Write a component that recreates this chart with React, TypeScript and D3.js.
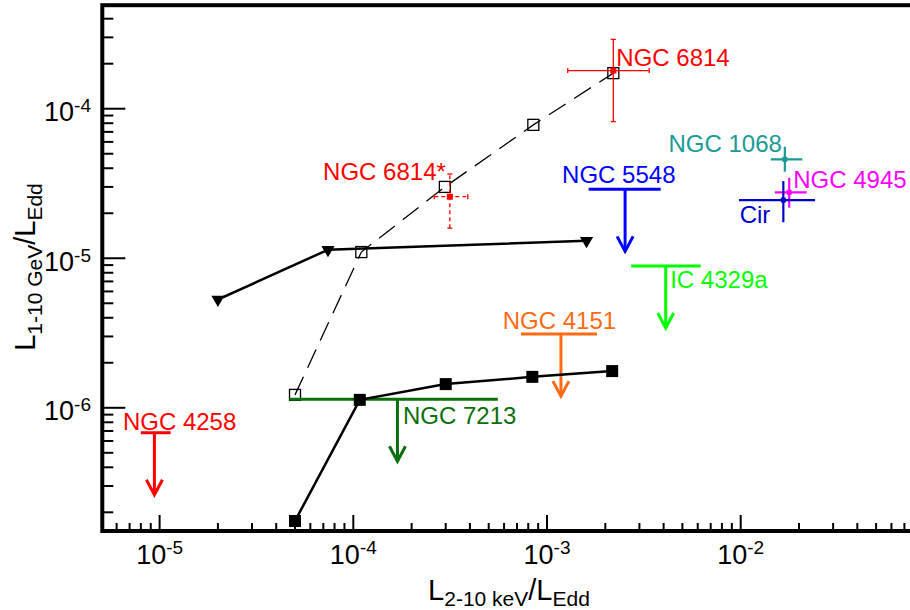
import React from "react";
import * as d3 from "d3";

// Canvas
const W = 910;
const H = 610;

// Axis domains (log-log)
const xDomain: [number, number] = [5e-6, 1e-1];
const yDomain: [number, number] = [1.5e-7, 5e-4];

// Model curve with filled squares (solid)
const filledX = [5.0e-5, 1.08e-4, 3.0e-4, 8.4e-4, 2.17e-3];
const filledY = [1.75e-7, 1.13e-6, 1.44e-6, 1.61e-6, 1.76e-6];

// Model curve with open squares (dashed)
const openX = [5.0e-5, 1.1e-4, 2.97e-4, 8.5e-4, 2.2e-3];
const openY = [1.22e-6, 1.1e-5, 3.0e-5, 7.8e-5, 1.73e-4];

// Model curve with down-pointing triangles (solid)
const triX = [2.0e-5, 7.4e-5, 1.6e-3];
const triY = [5.3e-6, 1.14e-5, 1.31e-5];

// Detected sources with error bars
const detNames = ["NGC 6814", "NGC 6814*", "NGC 1068", "NGC 4945", "Cir"];
const detX = [2.2e-3, 3.15e-4, 1.69e-2, 1.78e-2, 1.66e-2];
const detXLo = [1.28e-3, 2.62e-4, 1.43e-2, 1.5e-2, 9.8e-3];
const detXHi = [3.37e-3, 3.9e-4, 2.08e-2, 2.19e-2, 2.42e-2];
const detY = [1.8e-4, 2.58e-5, 4.59e-5, 2.76e-5, 2.45e-5];
const detYLo = [8.2e-5, 1.59e-5, 3.79e-5, 2.18e-5, 1.74e-5];
const detYHi = [2.91e-4, 3.66e-5, 5.57e-5, 3.45e-5, 3.28e-5];

// Upper limits: x range bar at the limit, arrow at the central x
const ulNames = ["NGC 5548", "NGC 4151", "NGC 7213", "IC 4329a", "NGC 4258"];
const ulX = [2.53e-3, 1.18e-3, 1.69e-4, 4.1e-3, 9.4e-6];
const ulXLo = [1.64e-3, 7.34e-4, 4.67e-5, 2.72e-3, 8.0e-6];
const ulXHi = [3.86e-3, 1.81e-3, 5.57e-4, 6.22e-3, 1.14e-5];
const ulY = [2.89e-5, 3.11e-6, 1.14e-6, 8.87e-6, 6.81e-7];

// Tick label exponents
const xTickExps = [-5, -4, -3, -2];
const yTickExps = [-6, -5, -4];

// Styling
const FONT = "'Liberation Sans', Arial, Helvetica, sans-serif";
const colors: Record<string, string> = {
  "NGC 6814": "#ff0000",
  "NGC 6814*": "#ff0000",
  "NGC 1068": "#1a9a96",
  "NGC 4945": "#ff00ff",
  Cir: "#0000cc",
  "NGC 5548": "#0000ff",
  "NGC 4151": "#ff6a13",
  "NGC 7213": "#0a6e0a",
  "IC 4329a": "#00ff00",
  "NGC 4258": "#ff0000",
};
// Label placement relative to the mark (pixels)
const labelPos: Record<string, { dx: number; dy: number; anchor: string; ref?: string }> = {
  "NGC 6814": { dx: 3, dy: -5, anchor: "start" },
  "NGC 6814*": { dx: -4, dy: -17, anchor: "end" },
  "NGC 1068": { dx: -3, dy: -7.5, anchor: "end" },
  "NGC 4945": { dx: 4, dy: -4, anchor: "start" },
  Cir: { dx: -13, dy: 22.5, anchor: "end" },
  "NGC 5548": { dx: -26.5, dy: -6, anchor: "start", ref: "lo" },
  "NGC 4151": { dx: -1.5, dy: -5, anchor: "middle" },
  "NGC 7213": { dx: 5.5, dy: 24.5, anchor: "start" },
  "IC 4329a": { dx: 4.5, dy: 21.5, anchor: "start" },
  "NGC 4258": { dx: -31.5, dy: -2.5, anchor: "start" },
};
const ARROW_LEN = 62;

export default function App() {
  const x = d3.scaleLog().domain(xDomain).range([101.3, 934.4]);
  const y = d3.scaleLog().domain(yDomain).range([531, 4.2]);

  const x0 = x.range()[0];
  const x1 = x.range()[1];
  const yB = y.range()[0];
  const yT = y.range()[1];

  const isMajor = (v: number) => Math.abs(Math.log10(v) - Math.round(Math.log10(v))) < 1e-6;
  const xTicks = x.ticks().filter((v) => v > xDomain[0] * 1.0001 && v < xDomain[1] * 0.9999);
  const yTicks = y.ticks().filter((v) => v > yDomain[0] * 1.0001 && v < yDomain[1] * 0.9999);

  const line = d3
    .line<[number, number]>()
    .x((d) => x(d[0]))
    .y((d) => y(d[1]));

  const filledPts = filledX.map((v, i) => [v, filledY[i]] as [number, number]);
  const openPts = openX.map((v, i) => [v, openY[i]] as [number, number]);
  const triPts = triX.map((v, i) => [v, triY[i]] as [number, number]);

  const tri = d3.symbol().type(d3.symbolTriangle).size(75)();

  return (
    <svg
      width={W}
      height={H}
      style={{ position: "absolute", left: 0, top: 0, background: "#fff" }}
      fontFamily={FONT}
    >
      <rect x={0} y={0} width={W} height={H} fill="#fff" />

      {/* dashed curve with open squares */}
      <path d={line(openPts) || ""} fill="none" stroke="#000" strokeWidth={1.3} strokeDasharray="20,10" />
      {openPts.map((p, i) => (
        <rect
          key={"o" + i}
          x={x(p[0]) - 5.5}
          y={y(p[1]) - 5.5}
          width={11}
          height={11}
          fill="none"
          stroke="#000"
          strokeWidth={1.3}
        />
      ))}

      {/* upper limits */}
      {ulNames.map((n, i) => {
        const c = colors[n];
        const ax = x(ulX[i]);
        const by = y(ulY[i]);
        const tip = by + ARROW_LEN;
        const lp = labelPos[n];
        const refX = lp.ref === "lo" ? x(ulXLo[i]) : ax;
        return (
          <g key={"ul" + i} stroke={c} strokeWidth={3} fill="none">
            <line x1={x(ulXLo[i])} x2={x(ulXHi[i])} y1={by} y2={by} />
            <line x1={ax} x2={ax} y1={by} y2={tip - 1} />
            <polyline points={`${ax - 8},${tip - 15} ${ax},${tip} ${ax + 8},${tip - 15}`} strokeLinejoin="miter" />
            <text
              x={refX + lp.dx}
              y={by + lp.dy}
              textAnchor={lp.anchor as any}
              fill={c}
              stroke="none"
              fontSize={24}
            >
              {n}
            </text>
          </g>
        );
      })}

      {/* detections with error bars */}
      {detNames.map((n, i) => {
        const c = colors[n];
        const cx = x(detX[i]);
        const cy = y(detY[i]);
        const thin = n.startsWith("NGC 6814");
        const dashed = n === "NGC 6814*";
        const sw = thin ? 1.3 : 2.2;
        const cap = thin ? 2.5 : 0;
        const lp = labelPos[n];
        const ms = thin ? 6 : 5;
        return (
          <g key={"d" + i} stroke={c} strokeWidth={sw} fill="none" strokeDasharray={dashed ? "4,3" : undefined}>
            <line x1={x(detXLo[i])} x2={x(detXHi[i])} y1={cy} y2={cy} />
            <line x1={cx} x2={cx} y1={y(detYLo[i])} y2={y(detYHi[i])} />
            {cap > 0 && (
              <g strokeDasharray="none">
                <line x1={x(detXLo[i])} x2={x(detXLo[i])} y1={cy - cap} y2={cy + cap} />
                <line x1={x(detXHi[i])} x2={x(detXHi[i])} y1={cy - cap} y2={cy + cap} />
                <line x1={cx - cap} x2={cx + cap} y1={y(detYLo[i])} y2={y(detYLo[i])} />
                <line x1={cx - cap} x2={cx + cap} y1={y(detYHi[i])} y2={y(detYHi[i])} />
              </g>
            )}
            <rect x={cx - ms / 2} y={cy - ms / 2} width={ms} height={ms} fill={c} stroke="none" />
            <text
              x={cx + lp.dx}
              y={cy + lp.dy}
              textAnchor={lp.anchor as any}
              fill={c}
              stroke="none"
              fontSize={24}
            >
              {n}
            </text>
          </g>
        );
      })}

      {/* solid curve with triangles */}
      <path d={line(triPts) || ""} fill="none" stroke="#000" strokeWidth={2.5} />
      {triPts.map((p, i) => (
        <path
          key={"t" + i}
          d={tri || ""}
          transform={`translate(${x(p[0])},${y(p[1])}) rotate(180)`}
          fill="#000"
        />
      ))}

      {/* solid curve with filled squares */}
      <path d={line(filledPts) || ""} fill="none" stroke="#000" strokeWidth={2.5} />
      {filledPts.map((p, i) => (
        <rect key={"f" + i} x={x(p[0]) - 6} y={y(p[1]) - 6} width={12} height={12} fill="#000" />
      ))}

      {/* ticks */}
      {xTicks.map((v, i) => (
        <line
          key={"xt" + i}
          x1={x(v)}
          x2={x(v)}
          y1={yB}
          y2={yB - (isMajor(v) ? 16 : 8)}
          stroke="#000"
          strokeWidth={2}
        />
      ))}
      {yTicks.map((v, i) => (
        <line
          key={"yt" + i}
          x1={x0}
          x2={x0 + (isMajor(v) ? 24 : 12)}
          y1={y(v)}
          y2={y(v)}
          stroke="#000"
          strokeWidth={2}
        />
      ))}

      {/* frame */}
      <rect x={x0 + 1} y={yT + 1} width={x1 - x0} height={yB - yT - 1} fill="none" stroke="#000" strokeWidth={4} />

      {/* tick labels */}
      {xTickExps.map((e) => (
        <text key={"xl" + e} x={x(Math.pow(10, e))} y={564} textAnchor="middle" fontSize={27} fill="#000">
          10
          <tspan fontSize={19} dy={-10}>
            {String(e)}
          </tspan>
        </text>
      ))}
      {yTickExps.map((e) => (
        <text key={"yl" + e} x={91} y={y(Math.pow(10, e)) + 12.5} textAnchor="end" fontSize={27} fill="#000">
          10
          <tspan fontSize={19} dy={-9}>
            {String(e)}
          </tspan>
        </text>
      ))}

      {/* axis titles */}
      <text x={509} y={600} textAnchor="middle" fontSize={29} fill="#000">
        L
        <tspan fontSize={21} dy={6}>
          2-10 keV
        </tspan>
        <tspan dy={-6}>/L</tspan>
        <tspan fontSize={21} dy={6}>
          Edd
        </tspan>
      </text>
      <text transform="translate(35,267) rotate(-90)" textAnchor="middle" fontSize={29} fill="#000">
        L
        <tspan fontSize={21} dy={7}>
          1-10 GeV
        </tspan>
        <tspan dy={-7}>/L</tspan>
        <tspan fontSize={21} dy={7}>
          Edd
        </tspan>
      </text>
    </svg>
  );
}
